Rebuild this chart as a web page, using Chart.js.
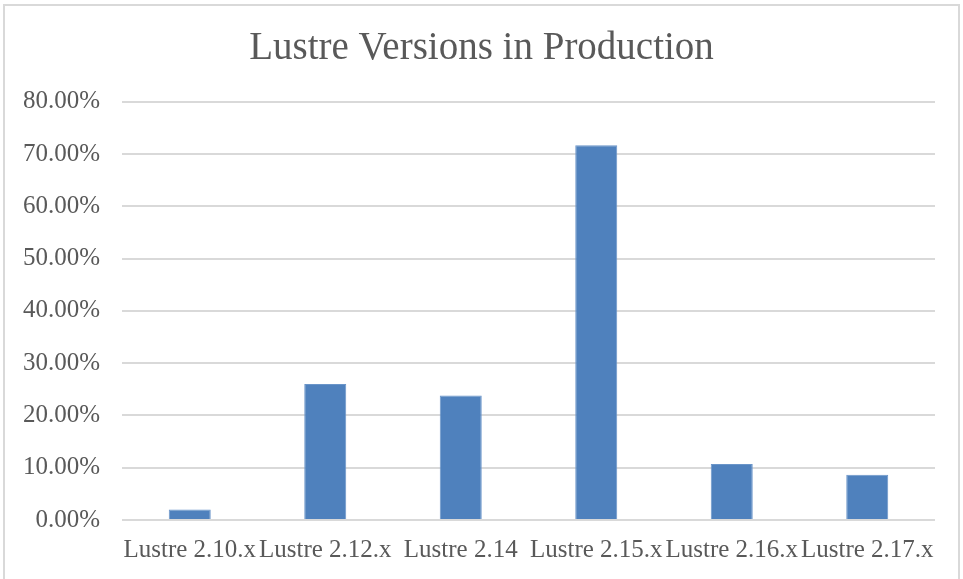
<!DOCTYPE html>
<html>
<head>
<meta charset="utf-8">
<script src="https://cdn.jsdelivr.net/npm/chart.js@4/dist/chart.umd.min.js"></script>
<style>
  html, body { margin: 0; padding: 0; background: #fff; overflow: hidden; }
  #frame { position: absolute; left: 3px; top: 4px; width: 957px; height: 600px; border: 2px solid #d9d9d9; border-bottom: none; box-sizing: border-box; }
  #wrap { position: absolute; left: 0; top: 0; width: 963px; height: 579px; }
</style>
</head>
<body>
<div id="frame"></div>
<div id="wrap"><canvas id="chart"></canvas></div>
<script>
const categories = ['Lustre 2.10.x', 'Lustre 2.12.x', 'Lustre 2.14', 'Lustre 2.15.x', 'Lustre 2.16.x', 'Lustre 2.17.x'];
const shares = [0.0203, 0.260, 0.238, 0.717, 0.107, 0.0866];
const yTicks = [0, 0.1, 0.2, 0.3, 0.4, 0.5, 0.6, 0.7, 0.8];

const textColor = '#595959';
const serif = "'Liberation Serif', 'Times New Roman', serif";

new Chart(document.getElementById('chart'), {
  type: 'bar',
  data: {
    labels: categories,
    datasets: [{
      data: shares,
      backgroundColor: '#4f81bd',
      borderColor: '#6a95c9',
      borderWidth: 1,
      barPercentage: 0.31,
      categoryPercentage: 1
    }]
  },
  options: {
    responsive: true,
    maintainAspectRatio: false,
    animation: false,
    layout: { padding: 0 },
    plugins: {
      legend: { display: false },
      tooltip: { enabled: false },
      title: {
        display: true,
        text: 'Lustre Versions in Production',
        color: textColor,
        font: { family: serif, size: 39, weight: 'normal' },
        padding: { top: 25, bottom: 30 }
      }
    },
    scales: {
      x: {
        grid: { display: false, drawTicks: false },
        border: { display: false },
        ticks: {
          color: textColor,
          font: { family: serif, size: 25 },
          maxRotation: 0,
          autoSkip: false,
          padding: 15
        },
        afterFit: (s) => { s.height = 59; }
      },
      y: {
        min: 0,
        max: 0.8,
        afterBuildTicks: (s) => { s.ticks = yTicks.map(v => ({ value: v })); },
        grid: { color: '#d9d9d9', lineWidth: 2, drawTicks: false },
        border: { display: false },
        ticks: {
          color: textColor,
          font: { family: serif, size: 25 },
          padding: 22,
          callback: (v) => (v * 100).toFixed(2) + '%'
        },
        afterFit: (s) => { s.width = 122; }
      },
      // empty right-hand axis: just keeps a right margin without shifting the title
      yRight: {
        position: 'right',
        grid: { display: false, drawTicks: false },
        border: { display: false },
        ticks: { display: false },
        afterFit: (s) => { s.width = 28; }
      }
    }
  }
});
</script>
</body>
</html>
